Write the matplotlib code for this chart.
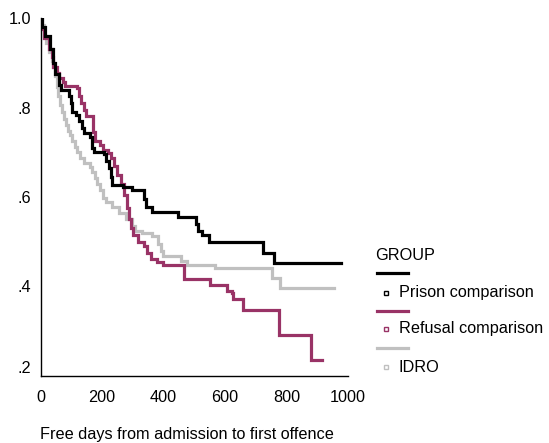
import matplotlib
matplotlib.use("Agg")
import matplotlib.pyplot as plt
from matplotlib.lines import Line2D

plt.rcParams['font.family'] = ['Liberation Sans', 'DejaVu Sans']

# Kaplan-Meier style survival curves (day, proportion surviving)
prison_days = [0, 5, 15, 30, 42, 48, 60, 68, 94, 98, 104, 114, 124, 134, 140, 160, 168, 174,
               205, 213, 222, 228, 234, 268, 296, 336, 342, 362, 448, 507, 512, 525, 548,
               723, 760, 976]
prison_surv = [1.0, 0.98, 0.96, 0.93, 0.90, 0.875, 0.85, 0.84, 0.825, 0.81, 0.79, 0.783, 0.77,
               0.755, 0.742, 0.735, 0.71, 0.70, 0.695, 0.68, 0.665, 0.645, 0.627, 0.622, 0.615,
               0.595, 0.577, 0.567, 0.555, 0.54, 0.525, 0.516, 0.499, 0.474, 0.452, 0.452]

refusal_days = [0, 3, 12, 28, 36, 40, 55, 60, 72, 80, 118, 126, 132, 143, 148, 170, 172, 176,
                192, 202, 218, 230, 240, 250, 262, 272, 282, 288, 293, 300, 318, 335, 345,
                360, 380, 398, 466, 550, 605, 623, 627, 660, 776, 880, 917]
refusal_surv = [1.0, 0.975, 0.955, 0.93, 0.912, 0.89, 0.878, 0.867, 0.857, 0.848, 0.843, 0.825,
                0.81, 0.795, 0.78, 0.76, 0.745, 0.725, 0.716, 0.705, 0.698, 0.688, 0.67, 0.65,
                0.628, 0.605, 0.575, 0.55, 0.53, 0.515, 0.50, 0.49, 0.475, 0.462, 0.455, 0.447,
                0.416, 0.403, 0.391, 0.385, 0.371, 0.347, 0.291, 0.235, 0.235]

idro_days = [0, 6, 12, 18, 28, 36, 42, 48, 54, 58, 64, 70, 76, 82, 88, 96, 104, 112, 120, 130,
             142, 160, 168, 176, 184, 194, 204, 214, 234, 254, 278, 296, 306, 330, 364, 382,
             392, 400, 458, 476, 566, 752, 780, 956]
idro_surv = [1.0, 0.985, 0.96, 0.945, 0.925, 0.905, 0.89, 0.87, 0.845, 0.825, 0.805, 0.79,
             0.775, 0.76, 0.748, 0.738, 0.725, 0.712, 0.70, 0.687, 0.677, 0.666, 0.655, 0.643,
             0.63, 0.615, 0.598, 0.588, 0.577, 0.565, 0.55, 0.535, 0.525, 0.519, 0.512, 0.495,
             0.48, 0.469, 0.456, 0.447, 0.441, 0.42, 0.396, 0.396]

groups = ['Prison comparison', 'Refusal comparison', 'IDRO']
colors = ['#000000', '#993366', '#c0c0c0']
x_ticks = [0, 200, 400, 600, 800, 1000]
y_ticks = [0.2, 0.4, 0.6, 0.8, 1.0]
y_labels = ['.2', '.4', '.6', '.8', '1.0']

W, H = 549, 443
FS = 11.7
fig = plt.figure(figsize=(W / 100, H / 100), dpi=100)
ax = fig.add_axes([40.5 / W, 1 - 376 / H, (348 - 40.5) / W, (376 - 18) / H])

series = [(prison_days, prison_surv), (refusal_days, refusal_surv), (idro_days, idro_surv)]
# draw grey first so black/purple sit on top
for i in [2, 1, 0]:
    d, s = series[i]
    ax.step(d, s, where='post', color=colors[i], lw=2.3, solid_joinstyle='miter')

ax.set_xlim(0, 1000)
ax.set_ylim(0.2, 1.0)
ax.set_xticks(x_ticks)
ax.set_yticks(y_ticks)
ax.set_yticklabels(y_labels)
ax.tick_params(length=0, labelsize=FS, colors='black')
ax.tick_params(axis='x', pad=10)
ax.tick_params(axis='y', pad=7)
ax.get_yticklabels()[0].set_va('bottom')
for side in ['top', 'right']:
    ax.spines[side].set_visible(False)
for side in ['left', 'bottom']:
    ax.spines[side].set_linewidth(1.0)
ax.patch.set_alpha(0)


def fx(x):
    return x / W


def fy(y):
    return 1 - y / H


fig.text(fx(40), fy(434), 'Free days from admission to first offence',
         ha='left', va='center', fontsize=FS)

# legend, SPSS style: a line sample above each marker+label row
fig.text(fx(375), fy(256), 'GROUP', ha='left', va='center', fontsize=FS)
line_rows = [273, 311, 348]
text_rows = [293, 329, 367]
for name, c, ly, ty in zip(groups, colors, line_rows, text_rows):
    fig.add_artist(Line2D([fx(377), fx(408)], [fy(ly), fy(ly)], color=c, lw=2.3,
                          transform=fig.transFigure))
    fig.add_artist(Line2D([fx(386)], [fy(ty)], marker='s', markersize=3.5,
                          markerfacecolor='white', markeredgecolor=c, markeredgewidth=1,
                          linestyle='none', transform=fig.transFigure))
    fig.text(fx(399), fy(ty), name, ha='left', va='center', fontsize=FS)

fig.savefig('out.png', dpi=100)
